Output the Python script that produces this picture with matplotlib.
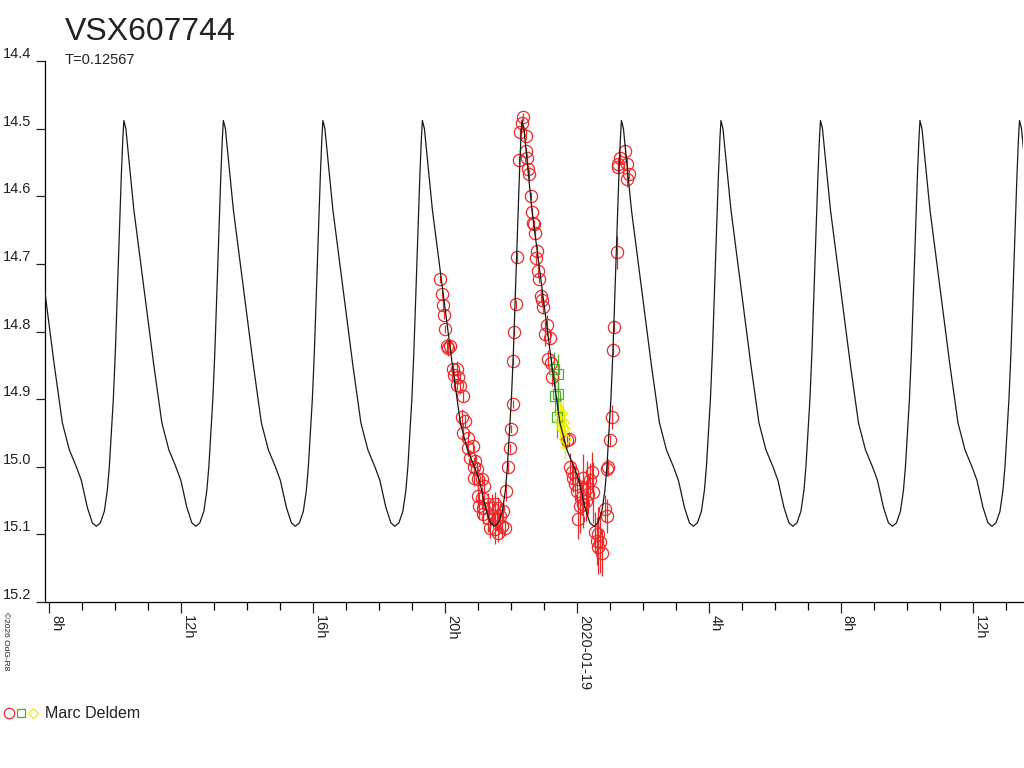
import matplotlib
matplotlib.use("Agg")
import matplotlib.pyplot as plt
import numpy as np
from matplotlib.lines import Line2D
from matplotlib.ticker import FuncFormatter, MultipleLocator

plt.rcParams['font.family'] = ['Liberation Sans', 'DejaVu Sans']

star = "VSX607744"
period_days = 0.12567
observer = "Marc Deldem"

# time in hours since 2020-01-18 00:00 UT
peak_time = 22.333
# one cycle of the model light curve: hours after maximum, magnitude
shape_dt = [0.0, 0.061, 0.152, 0.303, 0.606, 0.909, 1.152, 1.364, 1.576, 1.727,
            1.909, 2.061, 2.182, 2.303, 2.424, 2.515, 2.576, 2.636, 2.697, 2.758,
            2.818, 2.879, 2.939, 2.985]
shape_mag = [14.488, 14.50, 14.545, 14.62, 14.735, 14.85, 14.935, 14.975, 15.0, 15.02,
             15.06, 15.083, 15.088, 15.083, 15.066, 15.035, 15.0, 14.95, 14.90, 14.83,
             14.745, 14.655, 14.57, 14.515]

red_t = [19.848, 19.900, 19.948, 19.979, 20.000, 20.052, 20.152, 20.082, 20.252, 20.355,
         20.282, 20.403, 20.373, 20.455, 20.536, 20.506, 20.606, 20.555, 20.688, 20.706,
         20.839, 20.758, 20.909, 20.888, 20.961, 20.879, 21.009, 21.112, 21.191, 21.009,
         21.112, 21.030, 21.161, 21.312, 21.415, 21.515, 21.615, 21.161, 21.312, 21.464,
         21.567, 21.667, 21.767, 21.364, 21.515, 21.615, 21.718, 21.818,
         21.848, 21.918, 21.970, 22.000, 22.052, 22.070, 22.100, 22.142, 22.182, 22.252,
         22.273, 22.324, 22.364,
         22.445, 22.445, 22.494, 22.524, 22.545, 22.597, 22.627, 22.658, 22.697, 22.727,
         22.779, 22.767, 22.827, 22.858, 22.900, 22.948, 22.979, 23.082, 23.030, 23.182,
         23.130, 23.212, 23.252,
         23.688, 23.758, 23.788, 23.839, 23.888, 23.939, 23.991, 24.191, 24.294, 24.445,
         24.494, 24.342, 24.142, 24.039, 24.191, 24.091, 24.273, 24.394, 24.848, 24.900,
         24.545, 24.645, 24.594, 24.697, 24.748, 24.636,
         24.900, 24.948, 25.000, 25.052, 25.100, 25.121, 25.203,
         25.455, 25.303, 25.252, 25.506, 25.233, 25.576, 25.524]
red_mag = [14.723, 14.745, 14.761, 14.775, 14.796, 14.821, 14.821, 14.824, 14.855, 14.855,
           14.865, 14.868, 14.879, 14.880, 14.896, 14.927, 14.933, 14.950, 14.957, 14.972,
           14.970, 14.987, 14.991, 15.000, 15.003, 15.016, 15.018, 15.018, 15.028, 15.043,
           15.046, 15.058, 15.061, 15.055, 15.061, 15.055, 15.061, 15.070, 15.076, 15.073,
           15.077, 15.073, 15.065, 15.090, 15.092, 15.098, 15.087, 15.090,
           15.036, 15.001, 14.973, 14.944, 14.907, 14.843, 14.800, 14.760, 14.690, 14.547,
           14.505, 14.492, 14.483,
           14.511, 14.533, 14.544, 14.560, 14.567, 14.600, 14.624, 14.639, 14.641, 14.655,
           14.681, 14.692, 14.711, 14.723, 14.747, 14.754, 14.764, 14.791, 14.803, 14.809,
           14.840, 14.847, 14.868,
           14.961, 14.959, 15.000, 15.008, 15.016, 15.025, 15.036, 15.016, 15.031, 15.008,
           15.038, 15.040, 15.045, 15.077, 15.055, 15.058, 15.050, 15.019, 15.062, 15.073,
           15.097, 15.099, 15.110, 15.112, 15.127, 15.119,
           15.003, 15.001, 14.961, 14.926, 14.827, 14.793, 14.683,
           14.533, 14.544, 14.552, 14.552, 14.557, 14.567, 14.575]
red_err = [0.006, 0.006, 0.008, 0.006, 0.006, 0.012, 0.010, 0.012, 0.008, 0.012,
           0.008, 0.010, 0.008, 0.012, 0.008, 0.012, 0.010, 0.014, 0.008, 0.012,
           0.010, 0.012, 0.008, 0.014, 0.010, 0.012, 0.016, 0.010, 0.012, 0.018,
           0.016, 0.020, 0.018, 0.016, 0.020, 0.018, 0.016, 0.014, 0.020, 0.018,
           0.016, 0.020, 0.014, 0.016, 0.022, 0.014, 0.018, 0.012,
           0.014, 0.008, 0.006, 0.006, 0.006, 0.006, 0.006, 0.006, 0.008, 0.006,
           0.006, 0.008, 0.006,
           0.006, 0.006, 0.008, 0.006, 0.008, 0.006, 0.006, 0.006, 0.006, 0.008,
           0.010, 0.008, 0.008, 0.006, 0.010, 0.008, 0.010, 0.016, 0.018, 0.008,
           0.012, 0.010, 0.012,
           0.012, 0.010, 0.020, 0.018, 0.022, 0.025, 0.020, 0.035, 0.040, 0.030,
           0.045, 0.030, 0.025, 0.030, 0.035, 0.040, 0.030, 0.025, 0.020, 0.025,
           0.030, 0.040, 0.035, 0.045, 0.035, 0.040,
           0.010, 0.012, 0.008, 0.018, 0.008, 0.008, 0.024,
           0.010, 0.008, 0.008, 0.008, 0.008, 0.008, 0.012]

green_t = [23.303, 23.415, 23.433, 23.333, 23.385]
green_mag = [14.855, 14.863, 14.892, 14.895, 14.927]
green_err = [0.025, 0.030, 0.030, 0.028, 0.030]

yellow_t = [23.485, 23.585, 23.536, 23.615, 23.515, 23.636]
yellow_mag = [14.932, 14.934, 14.942, 14.944, 14.920, 14.959]
yellow_err = [0.028, 0.030, 0.032, 0.030, 0.025, 0.030]

red = '#ec2a2a'
green = '#4cb030'
yellow = '#f2ee00'

fig = plt.figure(figsize=(10.24, 7.68), dpi=100)
ax = fig.add_axes([45 / 1024, 1 - 602 / 768, 978 / 1024, 541 / 768])

xmin, xmax = 7.879, 37.52

ax.errorbar(red_t, red_mag, yerr=red_err, fmt='o', ms=8.8, mfc='none', mec=red,
            mew=0.9, ecolor=red, elinewidth=0.9, capsize=0, zorder=2)
ax.errorbar(green_t, green_mag, yerr=green_err, fmt='s', ms=6.5, mfc='none', mec=green,
            mew=0.9, ecolor=green, elinewidth=0.9, capsize=0, zorder=2)
ax.errorbar(yellow_t, yellow_mag, yerr=yellow_err, fmt='D', ms=6, mfc='none', mec=yellow,
            mew=0.9, ecolor=yellow, elinewidth=0.9, capsize=0, zorder=2)

# model light curve repeated with the period
period_h = period_days * 24
mt, mm = [], []
for k in range(-6, 7):
    for dt, m in zip(shape_dt, shape_mag):
        mt.append(peak_time + k * period_h + dt)
        mm.append(m)
ax.plot(mt, mm, color='#1a1a1a', lw=0.9, zorder=3)

ax.set_xlim(xmin, xmax)
ax.set_ylim(15.2, 14.4)

for s in ['top', 'right']:
    ax.spines[s].set_visible(False)
ax.spines['left'].set_linewidth(0.9)
ax.spines['bottom'].set_linewidth(0.9)

ax.set_yticks([14.4, 14.5, 14.6, 14.7, 14.8, 14.9, 15.0, 15.1, 15.2])
ax.yaxis.set_major_formatter(FuncFormatter(lambda v, p: f"{v:.1f}"))
ax.tick_params(axis='y', length=6.5, width=0.9, pad=3.6, labelsize=10.5, colors='#222222')
for lab in ax.get_yticklabels():
    lab.set_va('bottom')

ax.xaxis.set_major_locator(MultipleLocator(4, offset=0))
ax.xaxis.set_minor_locator(MultipleLocator(1))


def hour_label(v, p):
    h = int(round(v))
    if h % 24 == 0:
        return "2020-01-%02d" % (18 + h // 24)
    return f"{h % 24}h"


ax.xaxis.set_major_formatter(FuncFormatter(hour_label))
ax.tick_params(axis='x', which='major', length=8, width=0.9, pad=1.5, labelsize=10.5,
               colors='#222222')
ax.tick_params(axis='x', which='minor', length=6, width=0.9)
for lab in ax.get_xticklabels():
    lab.set_rotation(270)
    lab.set_ha('left')
    lab.set_va('top')

fig.text(65 / 1024, 1 - 40 / 768, star, fontsize=23, color='#222222', va='baseline')
fig.text(65 / 1024, 1 - 64 / 768, "T=%.5f" % period_days, fontsize=10.5, color='#222222',
         va='baseline')
fig.text(2 / 1024, 1 - 612 / 768, "\u00a92026 OdG-R8", fontsize=6, rotation=270,
         ha='left', va='top', color='#222222')

# legend
fig.add_artist(Line2D([9 / 1024], [1 - 713 / 768], marker='o', ms=7.5, mfc='none', mec=red,
                      mew=0.9, transform=fig.transFigure))
fig.add_artist(Line2D([21 / 1024], [1 - 713 / 768], marker='s', ms=5.5, mfc='none', mec=green,
                      mew=0.9, transform=fig.transFigure))
fig.add_artist(Line2D([33 / 1024], [1 - 713 / 768], marker='D', ms=5.5, mfc='none', mec=yellow,
                      mew=0.9, transform=fig.transFigure))
fig.text(45 / 1024, 1 - 718 / 768, observer, fontsize=11.5, color='#222222', va='baseline')

fig.savefig("out.png", dpi=100)
